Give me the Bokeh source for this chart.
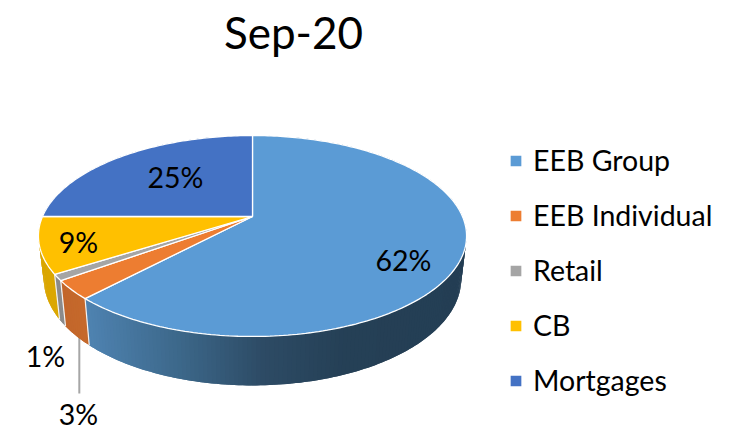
import math
from bokeh.plotting import figure
from bokeh.models import Range1d, ColumnDataSource, Legend, LegendItem
from bokeh.embed import file_html
from bokeh.resources import INLINE
from bokeh.core.properties import value

title = "Sep-20"
categories = ["EEB Group", "EEB Individual", "Retail", "CB", "Mortgages"]
shares = [62, 3, 1, 9, 25]
top_colors = ["#5b9bd5", "#ed7d31", "#a5a5a5", "#ffc000", "#4472c4"]
side_stops = [
    [(90, "#4e82b0"), (180, "#3c6789"), (260, "#2d4b65"), (340, "#254056"), (470, "#243e54")],
    [(60, "#c2652a"), (90, "#c66a2c")],
    [(50, "#8b8b8b"), (70, "#8b8b8b")],
    [(30, "#d9a500"), (70, "#dca800")],
    [(30, "#33568f"), (260, "#33568f")],
]
label_pos = [(403, 259), (78, 413), (45, 355), (78, 241), (175, 176)]
FONT = "Lato"

# projection of the tilted disc to page pixels
CX, CY, R, S, A = 252, 216, 210, 96.7, 0.194
D_SCALE_X, D_SCALE_Y, D_OFF = 0.975, 1.06, 28.8


def top(theta, r=1.0):
    u, v = r * math.sin(theta), -r * math.cos(theta)
    w = 1 - A * v
    return CX + R * u / w, CY + S * v / w


def bottom(theta):
    x, y = top(theta)
    return CX + D_SCALE_X * (x - CX), D_SCALE_Y * y + D_OFF


def hex2rgb(h):
    return tuple(int(h[i:i + 2], 16) for i in (1, 3, 5))


def shade(stops, x):
    if x <= stops[0][0]:
        return stops[0][1]
    for (x0, c0), (x1, c1) in zip(stops, stops[1:]):
        if x <= x1:
            t = (x - x0) / (x1 - x0)
            a, b = hex2rgb(c0), hex2rgb(c1)
            return "#%02x%02x%02x" % tuple(round(p + (q - p) * t) for p, q in zip(a, b))
    return stops[-1][1]


W, H = 722, 432
p = figure(width=W, height=H, x_range=Range1d(0, W), y_range=Range1d(H, 0),
           output_backend="svg", toolbar_location=None, min_border=0,
           outline_line_color=None, background_fill_color="white", border_fill_color="white")
p.axis.visible = False
p.grid.visible = False

total = sum(shares)
edges = [0.0]
for s in shares:
    edges.append(edges[-1] + s / total * 2 * math.pi)

# leader line of the 3 % label, behind the pie
lead_x = bottom((edges[1] + edges[2]) / 2)[0] + 3
p.line([lead_x, lead_x], [336, 393], line_color="#a6a6a6", line_width=2)

# side walls: each strip overlaps the next one so that no seam shows
xs, ys, cs = [], [], []
for i in range(len(shares)):
    a0, a1 = edges[i], edges[i + 1]
    n = max(2, int((a1 - a0) / math.radians(1.0)))
    for k in range(n):
        t0 = a0 + (a1 - a0) * k / n
        t1 = a0 + (a1 - a0) * min(k + 2, n) / n
        tm = a0 + (a1 - a0) * (k + 1) / n
        P = [top(t0), top(tm), top(t1), bottom(t1), bottom(tm), bottom(t0)]
        xs.append([q[0] for q in P])
        ys.append([q[1] for q in P])
        cs.append(shade(side_stops[i], bottom(tm)[0]))
side = ColumnDataSource(dict(x=xs, y=ys, c=cs))
p.patches("x", "y", source=side, fill_color="c", line_color=None)

# white seams between wall segments
for a in edges[1:4]:
    t, b = top(a), bottom(a)
    p.line([t[0], b[0]], [t[1], b[1]], line_color="#f2f2f2", line_width=1.2)

# top faces
renderers = []
for i in range(len(shares)):
    a0, a1 = edges[i], edges[i + 1]
    n = max(3, int((a1 - a0) / math.radians(1)))
    pts = [top(0, 0)] + [top(a0 + (a1 - a0) * k / n) for k in range(n + 1)]
    r = p.patch([q[0] for q in pts], [q[1] for q in pts], fill_color=top_colors[i],
                line_color="#ffffff", line_width=1.3)
    renderers.append(r)

# value labels
p.text([q[0] for q in label_pos], [q[1] for q in label_pos],
       text=[f"{s}%" for s in shares], text_font=value(FONT), text_font_size="28.5px",
       text_color="#000000", text_align="center", text_baseline="middle")

# title
p.text([293], [31], text=[title], text_font=value(FONT), text_font_size="44px",
       text_color="#000000", text_align="center", text_baseline="middle")

legend = Legend(
    items=[LegendItem(label=c, renderers=[r]) for c, r in zip(categories, renderers)],
    location=(508, 35), orientation="vertical", background_fill_alpha=0, border_line_color=None,
    glyph_width=15, glyph_height=15, label_height=30, label_standoff=10, spacing=21,
    padding=0, margin=0, label_text_font=FONT, label_text_font_size="28.5px",
    label_text_color="#000000", click_policy="none",
)
p.add_layout(legend, "center")

open("out.html", "w").write(file_html(p, INLINE))
